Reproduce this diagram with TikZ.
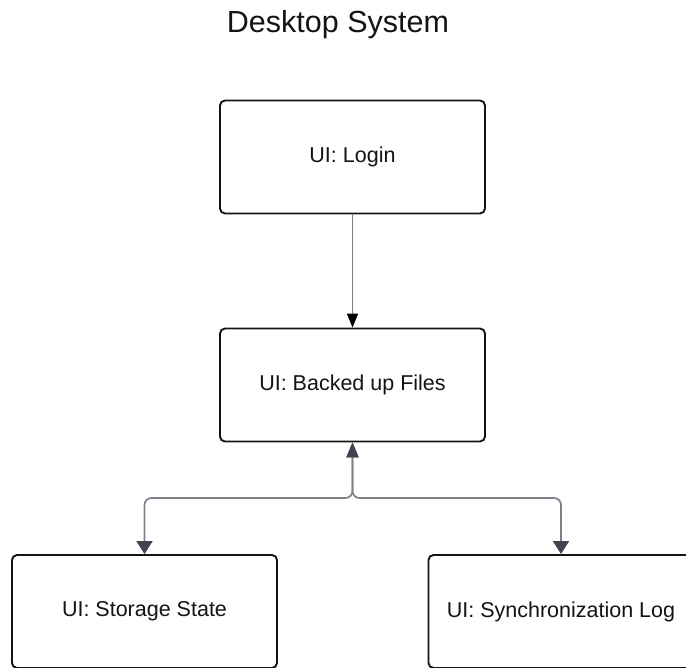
\documentclass[tikz,border=0pt]{standalone}
\usepackage{fontspec}
\setmainfont{Liberation Sans}
\usetikzlibrary{arrows.meta}
\definecolor{inkdark}{HTML}{141414}
\definecolor{linkgray}{HTML}{7E838B}
\definecolor{tipslate}{HTML}{3E4450}
\definecolor{flowgray}{HTML}{808080}
\tikzset{
  screen/.style={draw=inkdark, line width=1.9pt, rounded corners=5pt, fill=white,
    minimum width=265pt, minimum height=113pt, inner sep=0pt,
    font=\fontsize{21.5}{25}\selectfont, text=inkdark},
  flow/.style={draw=flowgray, line width=1.6pt,
    -{Triangle[width=11pt,length=14pt,color=black]}},
  link/.style={draw=linkgray, line width=1.7pt, rounded corners=7pt,
    {Triangle[width=12pt,length=15pt,color=tipslate]}-{Triangle[width=16pt,length=13pt,color=tipslate]}},
}
\begin{document}
\begin{tikzpicture}[x=1pt, y=-1pt]
  \useasboundingbox (0,0) rectangle (686,668);
  \fill[white] (0,0) rectangle (686,668);

  \node[anchor=base, font=\fontsize{30.5}{36}\selectfont, text=inkdark] (title) at (338,33) {Desktop System};

  \node[screen] (login)   at (352.5,157)   {UI: Login};
  \node[screen] (backed)  at (352.5,385)   {UI: Backed up Files};
  \node[screen] (storage) at (144.5,611.5) {UI: Storage State};
  \node[screen] (sync)    at (561,611.5)   {UI: Synchronization Log};

  \coordinate (fork) at (352.5,498);

  \draw[flow] (login.south) -- (backed.north);
  \draw[link] (backed.south) -- (fork) -| (storage.north);
  \draw[link] (backed.south) -- (fork) -| (sync.north);
\end{tikzpicture}
\end{document}
